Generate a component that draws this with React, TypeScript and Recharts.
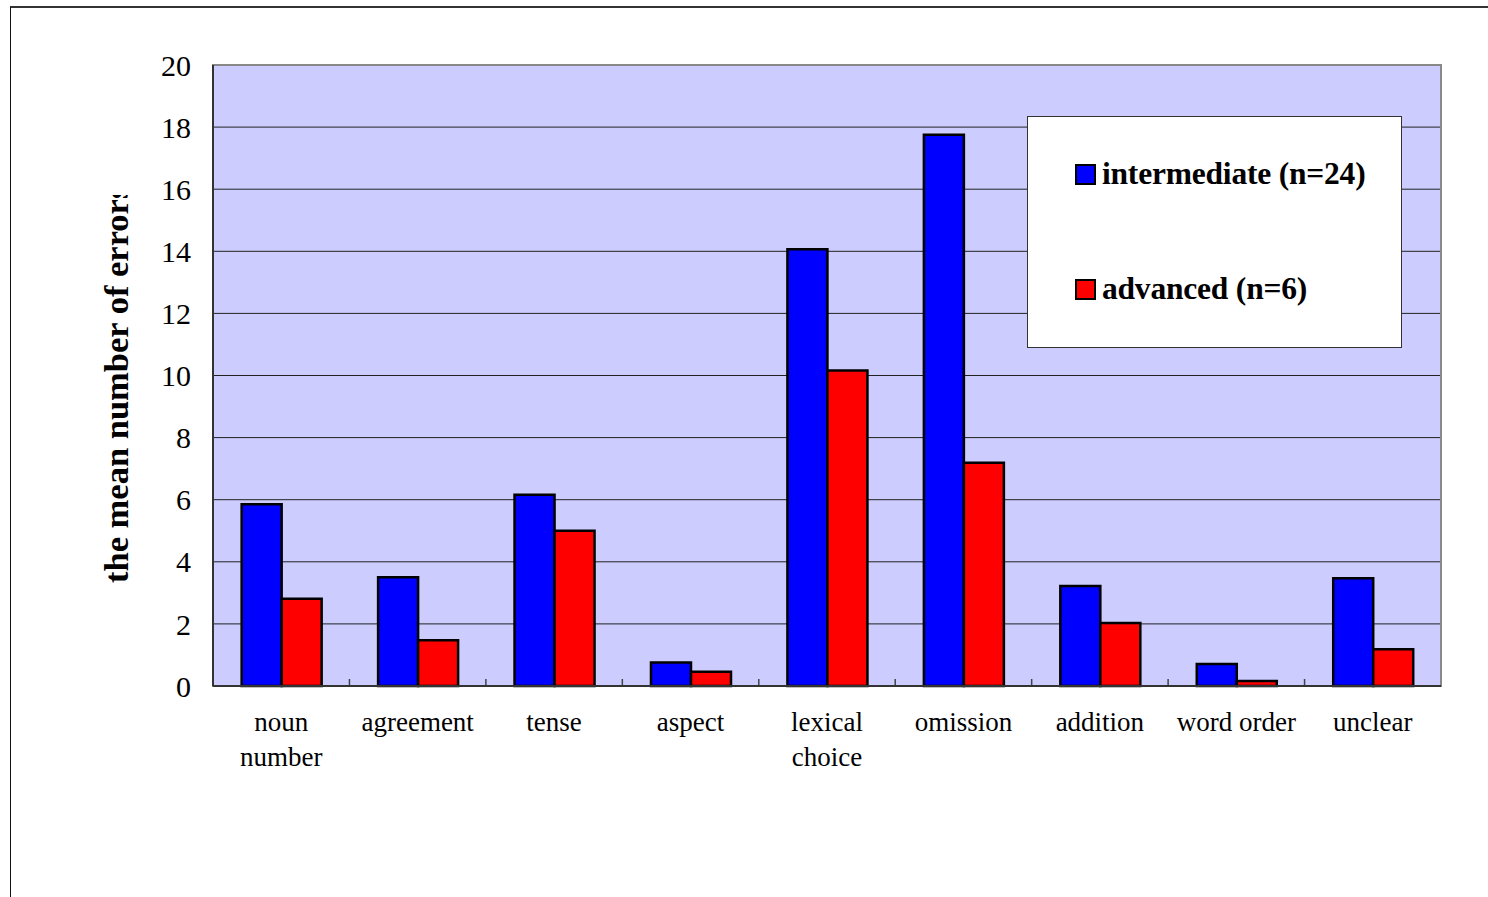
import React from 'react';
import { BarChart, Bar, XAxis, YAxis, CartesianGrid, Legend, ReferenceArea } from 'recharts';

const categories = ['noun number', 'agreement', 'tense', 'aspect', 'lexical choice', 'omission', 'addition', 'word order', 'unclear'];
const tickLines: string[][] = [['noun', 'number'], ['agreement'], ['tense'], ['aspect'], ['lexical', 'choice'], ['omission'], ['addition'], ['word order'], ['unclear']];
const intermediate = [5.85, 3.5, 6.16, 0.76, 14.07, 17.75, 3.22, 0.71, 3.47];
const advanced = [2.81, 1.47, 5.0, 0.46, 10.16, 7.19, 2.03, 0.16, 1.18];
const yTicks = [0, 2, 4, 6, 8, 10, 12, 14, 16, 18, 20];
const boundaryTicks = [1, 2, 3, 4, 5, 6, 7, 8];
const seriesNames = ['intermediate (n=24)', 'advanced (n=6)'];
const seriesColors = ['#0000FF', '#FF0000'];

const data = categories.map((c, i) => ({ category: c, idx: i, intermediate: intermediate[i], advanced: advanced[i] }));

const FONT = '"Liberation Serif", "Times New Roman", Times, serif';

const CatTick = (props: any) => {
  const { x, y, payload } = props;
  const i = categories.indexOf(payload.value);
  const lines = tickLines[i] || [payload.value];
  return (
    <text x={x} y={y + 45} textAnchor="middle" fontFamily={FONT} fontSize={27} fill="#000">
      {lines.map((l, k) => (
        <tspan key={k} x={x} dy={k === 0 ? 0 : 35}>{l}</tspan>
      ))}
    </text>
  );
};

const EmptyTick = () => <g />;

const YLabel = () => (
  <g>
    <defs>
      <clipPath id="ylabclip">
        <rect x={0} y={187} width={200} height={700} />
      </clipPath>
    </defs>
    <g clipPath="url(#ylabclip)">
      <text
        x={120}
        y={575}
        transform="rotate(-90 120 575)"
        fontFamily={FONT}
        fontWeight="bold"
        fontSize={34.5}
        fill="#000"
        textAnchor="start"
      >
        the mean number of errors
      </text>
    </g>
  </g>
);

const LegendBox = () => (
  <div
    style={{
      width: 375,
      height: 232,
      boxSizing: 'border-box',
      background: '#fff',
      border: '1.5px solid #333',
      position: 'relative',
      fontFamily: FONT,
    }}
  >
    {seriesNames.map((n, i) => (
      <div key={n} style={{ position: 'absolute', left: 47, top: i === 0 ? 42 : 157, display: 'flex', alignItems: 'center' }}>
        <div style={{ width: 21, height: 21, boxSizing: 'border-box', background: seriesColors[i], border: '2px solid #000', marginRight: 6 }} />
        <span style={{ fontWeight: 'bold', fontSize: 31.5, color: '#000', lineHeight: '30px', letterSpacing: '-0.2px' }}>{n}</span>
      </div>
    ))}
  </div>
);

export default function App() {
  return (
    <div style={{ position: 'relative', width: 1480, height: 880 }}>
      <BarChart
        width={1480}
        height={880}
        data={data}
        margin={{ top: 57, right: 47, left: 0, bottom: 142 }}
        barCategoryGap="21%"
        barGap={0}
      >
        <CartesianGrid vertical={false} stroke="#222" strokeWidth={1} fill="#CCCCFF" fillOpacity={1} />
        <ReferenceArea y1={0} y2={20} fill="none" stroke="#888" strokeWidth={2} ifOverflow="visible" />
        <XAxis
          xAxisId="bounds"
          type="number"
          dataKey="idx"
          domain={[0, 9]}
          ticks={boundaryTicks}
          mirror
          height={1}
          tickSize={7}
          tick={<EmptyTick />}
          axisLine={false}
          tickLine={{ stroke: '#444', strokeWidth: 1.5 }}
          allowDataOverflow
        />
        <XAxis
          dataKey="category"
          height={60}
          interval={0}
          tickLine={false}
          tickSize={0}
          tickMargin={0}
          axisLine={{ stroke: '#333', strokeWidth: 2 }}
          tick={<CatTick />}
        />
        <YAxis
          width={205}
          domain={[0, 20]}
          ticks={yTicks}
          interval={0}
          tickLine={false}
          tickSize={0}
          tickMargin={22}
          axisLine={{ stroke: '#333', strokeWidth: 2 }}
          tick={{ fontFamily: FONT, fontSize: 30, fill: '#000' }}
          label={{ content: () => <YLabel /> }}
        />
        <Legend
          layout="vertical"
          align="center"
          verticalAlign="middle"
          wrapperStyle={{ left: 1019, top: 108, width: 375, height: 232 }}
          content={() => <LegendBox />}
        />
        <Bar dataKey="intermediate" name={seriesNames[0]} fill={seriesColors[0]} stroke="#000" strokeWidth={2.5} isAnimationActive={false} />
        <Bar dataKey="advanced" name={seriesNames[1]} fill={seriesColors[1]} stroke="#000" strokeWidth={2.5} isAnimationActive={false} />
      </BarChart>
      <div
        style={{
          position: 'fixed',
          left: 10,
          top: 6,
          width: 1478,
          height: 891,
          boxSizing: 'border-box',
          borderTop: '2px solid #333',
          borderLeft: '1.5px solid #111',
          pointerEvents: 'none',
          zIndex: 5,
        }}
      />
    </div>
  );
}
